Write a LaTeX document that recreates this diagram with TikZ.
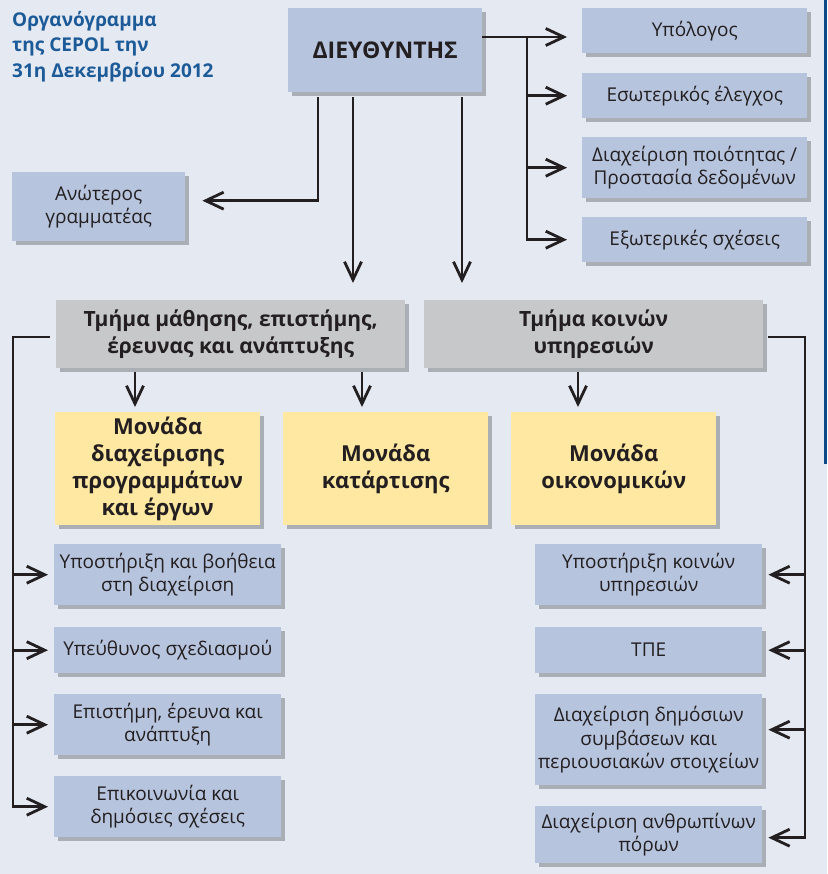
\documentclass[tikz,border=0pt]{standalone}
\usepackage{fontspec}
\setmainfont{Open Sans}
\usetikzlibrary{arrows.meta}
\usetikzlibrary{shadows}

\definecolor{pagebg}{HTML}{E4E9F2}
\definecolor{edgebar}{HTML}{0B4A87}
\definecolor{titleblue}{HTML}{1C5A98}
\definecolor{ink}{HTML}{231F20}
\definecolor{unitblue}{HTML}{B7C4DE}
\definecolor{deptgrey}{HTML}{C7C8CA}
\definecolor{modyellow}{HTML}{FFE8A2}

\begin{document}
\begin{tikzpicture}[x=1pt,y=-1pt,
    box/.style={anchor=north west,inner sep=0pt,align=center,text=ink,
        drop shadow={shadow xshift=4pt,shadow yshift=-4pt,fill=black,opacity=0.25}},
    unit/.style={box,fill=unitblue,font=\fontsize{19}{23.5}\selectfont},
    dept/.style={box,fill=deptgrey,font=\bfseries\fontsize{21}{27}\selectfont},
    modul/.style={box,fill=modyellow,font=\bfseries\fontsize{22}{27}\selectfont},
    link/.style={draw=ink,line width=2.8pt,-{Straight Barb[length=18pt,width=17pt]}}]
    % Page and side bar
    \fill[pagebg] (0,0) rectangle (827,874);
    \fill[edgebar] (824,0) rectangle (827,464);
    \useasboundingbox (0,0) rectangle (827,874);

    % Title
    \node[anchor=north west,inner sep=0pt,align=left,text=titleblue,
        font=\bfseries\fontsize{19}{25.5}\selectfont] (title) at (12,11)
        {Οργανόγραμμα\\της CEPOL την\\31η Δεκεμβρίου 2012};

    % Place the director and his staff
    \node[unit,minimum width=194pt,minimum height=84pt,
        font=\bfseries\fontsize{23}{26}\selectfont] (dir) at (288,8) {ΔΙΕΥΘΥΝΤΗΣ};
    \node[unit,minimum width=173pt,minimum height=69pt] (sec) at (12,172) {Ανώτερος\\γραμματέας};
    \node[unit,minimum width=225pt,minimum height=45pt] (u1) at (582,8) {Υπόλογος};
    \node[unit,minimum width=225pt,minimum height=45pt] (u2) at (582,73) {Εσωτερικός έλεγχος};
    \node[unit,minimum width=225pt,minimum height=61pt] (u3) at (582,137) {Διαχείριση ποιότητας /\\Προστασία δεδομένων};
    \node[unit,minimum width=225pt,minimum height=45pt] (u4) at (582,217) {Εξωτερικές σχέσεις};

    % Place the two departments
    \node[dept,minimum width=349pt,minimum height=68pt] (d1) at (56,300) {Τμήμα μάθησης, επιστήμης,\\έρευνας και ανάπτυξης};
    \node[dept,minimum width=339pt,minimum height=68pt] (d2) at (424,300) {Τμήμα κοινών\\υπηρεσιών};

    % Place the units
    \node[modul,minimum width=205pt,minimum height=113pt] (m1) at (55,412) {Μονάδα\\διαχείρισης\\προγραμμάτων\\και έργων};
    \node[modul,minimum width=205pt,minimum height=113pt] (m2) at (283,412) {Μονάδα\\κατάρτισης};
    \node[modul,minimum width=205pt,minimum height=113pt] (m3) at (511,412) {Μονάδα\\οικονομικών};

    % Place the sections
    \node[unit,minimum width=227pt,minimum height=61pt] (l1) at (54,544) {Υποστήριξη και βοήθεια\\στη διαχείριση};
    \node[unit,minimum width=227pt,minimum height=46pt] (l2) at (54,627) {Υπεύθυνος σχεδιασμού};
    \node[unit,minimum width=227pt,minimum height=61pt] (l3) at (54,694) {Επιστήμη, έρευνα και\\ανάπτυξη};
    \node[unit,minimum width=227pt,minimum height=61pt] (l4) at (54,776) {Επικοινωνία και\\δημόσιες σχέσεις};
    \node[unit,minimum width=227pt,minimum height=61pt] (r1) at (535,544) {Υποστήριξη κοινών\\υπηρεσιών};
    \node[unit,minimum width=227pt,minimum height=46pt] (r2) at (535,627) {ΤΠΕ};
    \node[unit,minimum width=227pt,minimum height=91pt] (r3) at (535,694) {Διαχείριση δημόσιων\\συμβάσεων και\\περιουσιακών στοιχείων};
    \node[unit,minimum width=227pt,minimum height=57pt] (r4) at (535,806) {Διαχείριση ανθρωπίνων\\πόρων};

    % Bends and drop points
    \coordinate (a1) at (318,0);
    \coordinate (a2) at (353,0);
    \coordinate (a3) at (462,0);
    \coordinate (rt) at (527,37);
    \coordinate (b1) at (135,0);
    \coordinate (b2) at (362,0);
    \coordinate (b3) at (578,0);
    \coordinate (lt) at (13,337);
    \coordinate (rb) at (805,337);

    % The lines!
    \draw[link,shorten <=5pt,shorten >=17pt] (a1 |- dir.south) |- ([yshift=6pt]sec.east);
    \draw[link,shorten <=5pt,shorten >=17pt] (a2 |- dir.south) -- (a2 |- d1.north);
    \draw[link,shorten <=5pt,shorten >=17pt] (a3 |- dir.south) -- (a3 |- d2.north);
    \draw[link,shorten >=15pt] (rt -| dir.east) -- (rt -| u1.west);
    \draw[link,shorten >=15pt] (rt) |- (u2.west);
    \draw[link,shorten >=15pt] (rt) |- (u3.west);
    \draw[link,shorten >=15pt] (rt) |- (u4.west);

    \draw[link,shorten <=4pt,shorten >=5pt] (b1 |- d1.south) -- (b1 |- m1.north);
    \draw[link,shorten <=4pt,shorten >=5pt] (b2 |- d1.south) -- (b2 |- m2.north);
    \draw[link,shorten <=4pt,shorten >=5pt] (b3 |- d2.south) -- (b3 |- m3.north);

    \draw[link,shorten <=6pt,shorten >=6pt] (lt -| d1.west) -- (lt) |- (l1.west);
    \draw[link,shorten >=6pt] (lt) |- (l2.west);
    \draw[link,shorten >=6pt] (lt) |- (l3.west);
    \draw[link,shorten >=6pt] (lt) |- (l4.west);
    \draw[link,shorten <=5pt,shorten >=6pt] (rb -| d2.east) -- (rb) |- (r1.east);
    \draw[link,shorten >=6pt] (rb) |- (r2.east);
    \draw[link,shorten >=6pt] (rb) |- ([yshift=10pt]r3.east);
    \draw[link,shorten >=6pt] (rb) |- ([yshift=-3pt]r4.east);
\end{tikzpicture}
\end{document}
